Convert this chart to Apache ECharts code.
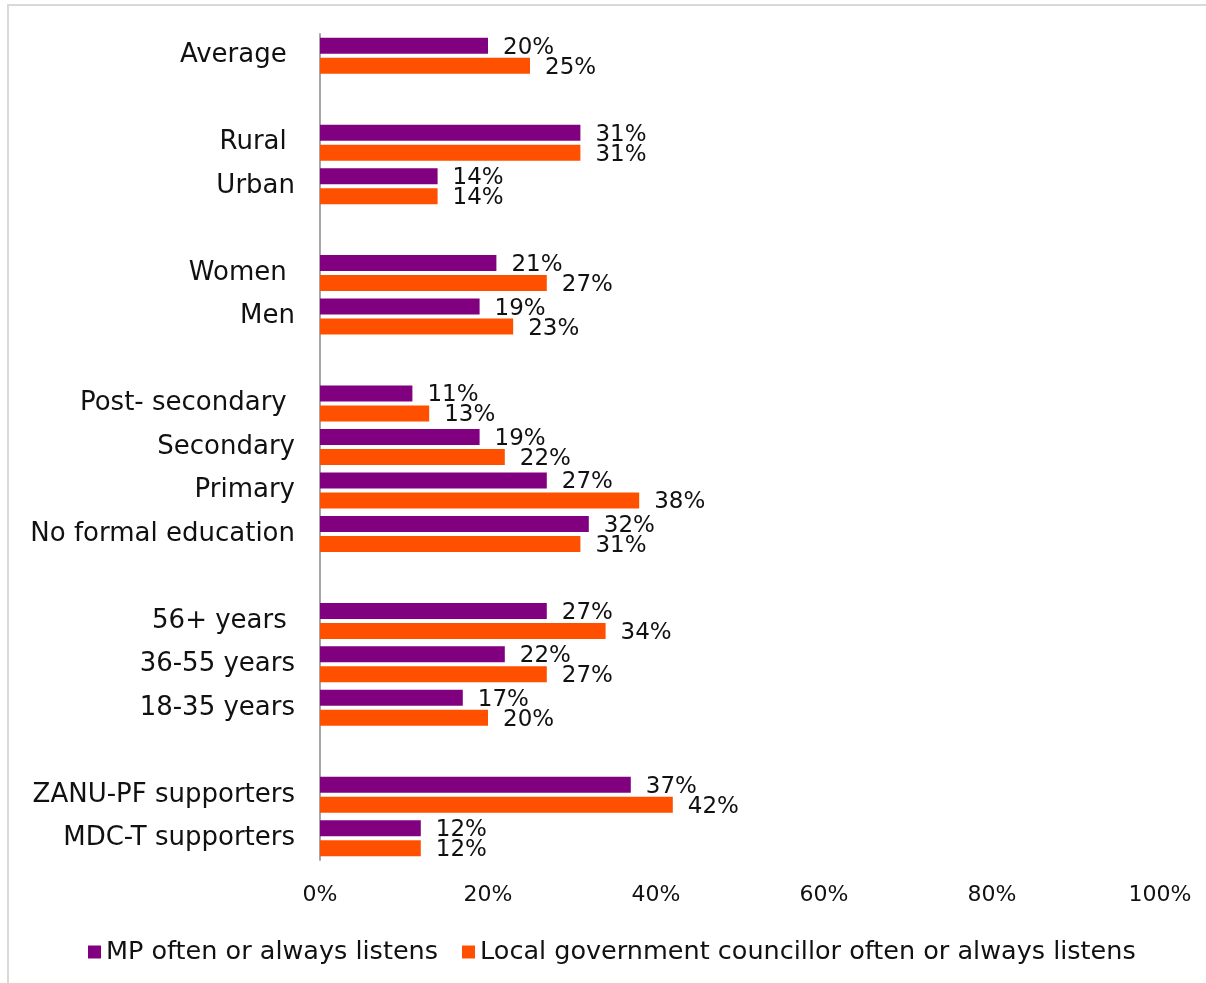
<!DOCTYPE html>
<html>
<head>
<meta charset="utf-8">
<script src="https://cdn.jsdelivr.net/npm/echarts@6/dist/echarts.min.js"></script>
<style>
  html, body { margin: 0; padding: 0; background: #fff; }
  #chart { width: 1206px; height: 983px; }
</style>
</head>
<body>
<div id="chart"></div>
<script>
// Group rows; empty strings are spacer rows between groups
const categories = [
  'Average ', '',
  'Rural ', 'Urban', '',
  'Women ', 'Men', '',
  'Post- secondary ', 'Secondary', 'Primary', 'No formal education', '',
  '56+ years ', '36-55 years', '18-35 years', '',
  'ZANU-PF supporters', 'MDC-T supporters'
];
const mpListens = [
  20, null,
  31, 14, null,
  21, 19, null,
  11, 19, 27, 32, null,
  27, 22, 17, null,
  37, 12
];
const councillorListens = [
  25, null,
  31, 14, null,
  27, 23, null,
  13, 22, 38, 31, null,
  34, 27, 20, null,
  42, 12
];
const seriesNames = ['MP often or always listens', 'Local government councillor often or always listens'];

const FONT = 'DejaVu Sans';
const chart = echarts.init(document.getElementById('chart'));

const labelCfg = {
  show: true,
  position: 'right',
  distance: 15,
  offset: [0, 2],
  formatter: p => p.value + '%',
  fontFamily: FONT,
  fontSize: 23,
  color: '#111'
};

chart.setOption({
  animation: false,
  backgroundColor: '#fff',
  graphic: [{
    type: 'rect',
    shape: { x: 8, y: 5, width: 1400, height: 1200 },
    style: { fill: 'none', stroke: '#d9d9d9', lineWidth: 2 },
    silent: true
  }],
  grid: { left: 320, right: 46, top: 34, bottom: 123, containLabel: false },
  legend: {
    data: seriesNames,
    left: 83,
    top: 934,
    icon: 'rect',
    itemWidth: 13,
    itemHeight: 13,
    itemGap: 24,
    textStyle: { fontFamily: FONT, fontSize: 25.5, color: '#111' }
  },
  xAxis: {
    type: 'value',
    min: 0,
    max: 100,
    interval: 20,
    axisLine: { show: false },
    axisTick: { show: false },
    splitLine: { show: false },
    axisLabel: {
      formatter: '{value}%',
      margin: 24,
      fontFamily: FONT,
      fontSize: 22,
      color: '#111'
    }
  },
  yAxis: {
    type: 'category',
    inverse: true,
    data: categories,
    axisLine: { show: true, lineStyle: { color: '#a6a6a6', width: 2 } },
    axisTick: { show: false },
    axisLabel: {
      margin: 25,
      fontFamily: FONT,
      fontSize: 26,
      color: '#111'
    }
  },
  series: [
    {
      name: seriesNames[0],
      type: 'bar',
      data: mpListens,
      barWidth: 16,
      barGap: '25%',
      itemStyle: { color: '#800080' },
      label: labelCfg
    },
    {
      name: seriesNames[1],
      type: 'bar',
      data: councillorListens,
      barWidth: 16,
      itemStyle: { color: '#FF5000' },
      label: labelCfg
    }
  ]
});
</script>
</body>
</html>
